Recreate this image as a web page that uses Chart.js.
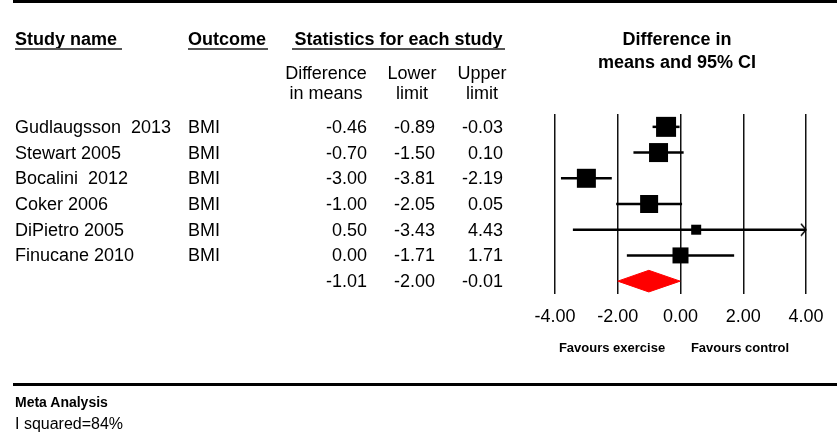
<!DOCTYPE html>
<html>
<head>
<meta charset="utf-8">
<script src="https://cdn.jsdelivr.net/npm/chart.js@4.4.1/dist/chart.umd.min.js"></script>
<style>
  body { margin: 0; background: #fff; }
  #wrap { position: relative; width: 837px; height: 432px; overflow: hidden;
          font-family: "Liberation Sans", Arial, sans-serif; color: #000; }
  #wrap canvas { position: absolute; left: 0; top: 0; }
  .t { position: absolute; white-space: pre; line-height: 20px; font-size: 18px; }
  .b { font-weight: bold; }
  .r { text-align: right; }
  .c { text-align: center; }
  .rule { position: absolute; background: #000; }
  .ul { position: absolute; height: 2px; background: #555; }
</style>
</head>
<body>
<div id="wrap">
  <canvas id="forest" width="837" height="432"></canvas>
</div>
<script>
// study data
const studies = ["Gudlaugsson  2013", "Stewart 2005", "Bocalini  2012", "Coker 2006", "DiPietro 2005", "Finucane 2010"];
const outcomes = ["BMI", "BMI", "BMI", "BMI", "BMI", "BMI"];
const diffs = [-0.46, -0.70, -3.00, -1.00, 0.50, 0.00];
const lowers = [-0.89, -1.50, -3.81, -2.05, -3.43, -1.71];
const uppers = [-0.03, 0.10, -2.19, 0.05, 4.43, 1.71];
const weights = [20, 19, 19, 18, 10, 16]; // relative box size
const summary = [-1.01, -2.00, -0.01];   // diff, lower, upper
const xTicks = [-4, -2, 0, 2, 4];

const wrap = document.getElementById("wrap");
function addText(txt, cls, left, top, width) {
  const d = document.createElement("div");
  d.className = "t " + cls;
  d.textContent = txt;
  d.style.left = left + "px";
  d.style.top = top + "px";
  if (width) d.style.width = width + "px";
  wrap.appendChild(d);
  return d;
}
function addBox(cls, left, top, w, h) {
  const d = document.createElement("div");
  d.className = cls;
  d.style.left = left + "px"; d.style.top = top + "px";
  d.style.width = w + "px"; if (h) d.style.height = h + "px";
  wrap.appendChild(d);
}

// rules and headers
addBox("rule", 13, 0, 824, 3);
addBox("rule", 13, 383, 824, 3);
addText("Study name", "b", 15, 29);
addBox("ul", 15, 48, 107);
addText("Outcome", "b", 188, 29);
addBox("ul", 188, 48, 80);
addText("Statistics for each study", "b c", 292, 29, 213);
addBox("ul", 292, 48, 213);
addText("Difference in", "b c", 577, 29, 200);
addText("means and 95% CI", "b c", 577, 52, 200);
addText("Difference", "c", 276, 63, 100);
addText("in means", "c", 276, 83, 100);
addText("Lower", "c", 372, 63, 80);
addText("limit", "c", 372, 83, 80);
addText("Upper", "c", 442, 63, 80);
addText("limit", "c", 442, 83, 80);

const rowY0 = 127, rowStep = 25.67;
studies.forEach((s, i) => {
  const top = rowY0 + rowStep * i - 10;
  addText(s, "", 15, top);
  addText(outcomes[i], "", 188, top);
  addText(diffs[i].toFixed(2), "r", 287, top, 80);
  addText(lowers[i].toFixed(2), "r", 355, top, 80);
  addText(uppers[i].toFixed(2), "r", 423, top, 80);
});
const sTop = rowY0 + rowStep * studies.length - 10;
addText(summary[0].toFixed(2), "r", 287, sTop, 80);
addText(summary[1].toFixed(2), "r", 355, sTop, 80);
addText(summary[2].toFixed(2), "r", 423, sTop, 80);

addText("Favours exercise", "b c", 532, 338, 160).style.fontSize = "13px";
addText("Favours control", "b c", 660, 338, 160).style.fontSize = "13px";
const ma = addText("Meta Analysis", "b", 15, 392); ma.style.fontSize = "14px";
const isq = addText("I squared=84%", "", 15, 414); isq.style.fontSize = "16px";

// forest plot
const xMin = -4, xMax = 4;
const rows = studies.map((_, i) => i + 1);
const sumRow = studies.length + 1;

// arrow head for CI running off the scale (tip at the centre of the image)
const arrow = document.createElement("canvas");
arrow.width = 12; arrow.height = 14;
(function () {
  const c = arrow.getContext("2d");
  c.strokeStyle = "#000"; c.lineWidth = 1.5;
  c.beginPath(); c.moveTo(1, 1); c.lineTo(6, 7); c.lineTo(1, 13); c.stroke();
})();

const datasets = [];
studies.forEach((s, i) => {
  datasets.push({
    label: s + " CI",
    data: [{ x: Math.max(lowers[i], xMin), y: rows[i] }, { x: Math.min(uppers[i], xMax), y: rows[i] }],
    showLine: true, borderColor: "#000", borderWidth: 2.5, pointRadius: 0, order: 2
  });
  if (uppers[i] > xMax) {
    datasets.push({
      label: s + " arrow",
      data: [{ x: xMax, y: rows[i] }],
      pointStyle: arrow, pointRadius: 7, clip: false, order: 1
    });
  }
});
datasets.push({
  label: "Studies",
  data: diffs.map((d, i) => ({ x: d, y: rows[i] })),
  pointStyle: "rect",
  pointRadius: weights.map(w => w / Math.SQRT2),
  backgroundColor: "#000", borderColor: "#000", borderWidth: 0, order: 0
});
const dh = 0.42;
datasets.push({
  label: "Summary",
  data: [
    { x: summary[1], y: sumRow }, { x: summary[0], y: sumRow - dh },
    { x: summary[2], y: sumRow }, { x: summary[0], y: sumRow + dh },
    { x: summary[1], y: sumRow }
  ],
  showLine: true, fill: "shape", backgroundColor: "#ff0000", borderColor: "#ff0000",
  borderWidth: 1, pointRadius: 0, tension: 0, order: 0
});

new Chart(document.getElementById("forest"), {
  type: "scatter",
  data: { datasets },
  options: {
    responsive: false,
    animation: false,
    layout: { padding: { left: 555, right: 31, top: 114, bottom: 432 - 294 - 40 } },
    plugins: { legend: { display: false }, tooltip: { enabled: false } },
    scales: {
      x: {
        type: "linear", min: xMin, max: xMax,
        afterBuildTicks: s => { s.ticks = xTicks.map(v => ({ value: v })); },
        afterFit: s => { s.height = 40; },
        grid: { color: "#111", lineWidth: 1.5, drawTicks: false },
        border: { display: false },
        ticks: {
          padding: 12, color: "#000",
          font: { family: "Liberation Sans", size: 18 },
          callback: v => v.toFixed(2)
        }
      },
      y: {
        type: "linear", min: 0.5, max: sumRow + 0.5, reverse: true, display: false
      }
    }
  }
});
</script>
</body>
</html>
